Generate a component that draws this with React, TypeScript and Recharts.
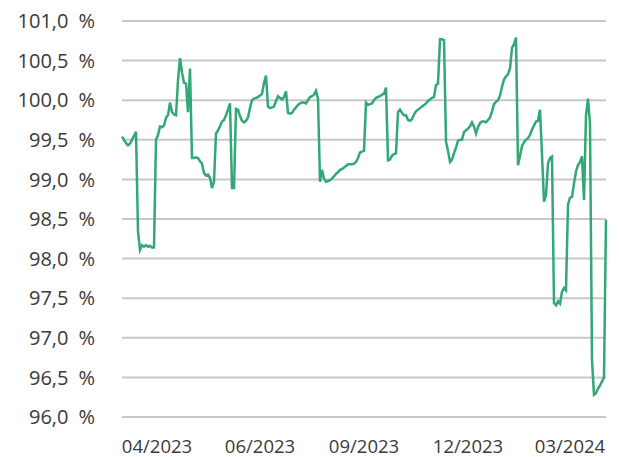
import React from 'react';
import { LineChart, Line, XAxis, YAxis, CartesianGrid } from 'recharts';

// daily values, % of par
const values = [
  99.54, 99.5, 99.46, 99.43, 99.45, 99.5, 99.55, 99.6, 98.34, 98.11,
  98.17, 98.15, 98.17, 98.15, 98.16, 98.14, 98.14, 99.5, 99.56, 99.67,
  99.66, 99.68, 99.78, 99.81, 99.97, 99.85, 99.82, 99.81, 100.25, 100.53,
  100.35, 100.22, 100.21, 99.85, 100.4, 99.27, 99.27, 99.28, 99.27, 99.23,
  99.2, 99.08, 99.05, 99.06, 99.02, 98.89, 98.97, 99.58, 99.62, 99.67,
  99.73, 99.75, 99.81, 99.88, 99.96, 98.89, 98.89, 99.89, 99.88, 99.8,
  99.74, 99.72, 99.74, 99.78, 99.9, 100.0, 100.02, 100.03, 100.04, 100.06,
  100.08, 100.22, 100.31, 99.92, 99.9, 99.91, 99.92, 99.99, 100.05, 100.03,
  100.01, 100.04, 100.11, 99.84, 99.83, 99.84, 99.88, 99.91, 99.94, 99.96,
  99.97, 99.97, 99.96, 100.0, 100.04, 100.05, 100.07, 100.12, 100.02, 98.97,
  99.12, 99.01, 98.97, 98.98, 98.99, 99.01, 99.04, 99.07, 99.09, 99.12,
  99.13, 99.15, 99.17, 99.19, 99.19, 99.19, 99.2, 99.22, 99.27, 99.34,
  99.35, 99.36, 99.97, 99.94, 99.95, 99.96, 100.0, 100.03, 100.04, 100.05,
  100.07, 100.08, 100.16, 99.24, 99.25, 99.3, 99.32, 99.33, 99.85, 99.88,
  99.84, 99.81, 99.81, 99.75, 99.74, 99.76, 99.82, 99.86, 99.88, 99.9,
  99.92, 99.94, 99.96, 99.99, 100.01, 100.03, 100.04, 100.19, 100.21, 100.77,
  100.77, 100.76, 99.48, 99.36, 99.22, 99.25, 99.33, 99.4, 99.49, 99.5,
  99.5, 99.6, 99.62, 99.64, 99.67, 99.72, 99.67, 99.58, 99.66, 99.71,
  99.73, 99.73, 99.72, 99.75, 99.78, 99.86, 99.95, 99.98, 100.0, 100.06,
  100.17, 100.26, 100.3, 100.33, 100.4, 100.66, 100.71, 100.79, 99.18, 99.3,
  99.42, 99.47, 99.5, 99.52, 99.56, 99.63, 99.68, 99.73, 99.74, 99.88,
  99.31, 98.72, 98.8, 99.2, 99.27, 99.29, 97.44, 97.41, 97.46, 97.43,
  97.58, 97.63, 97.6, 98.68, 98.77, 98.78, 98.95, 99.1, 99.18, 99.22,
  99.29, 98.74, 99.81, 100.02, 99.7, 96.72, 96.28, 96.3, 96.36, 96.4,
  96.45, 96.5, 98.49,
];

const yTicks = [96, 96.5, 97, 97.5, 98, 98.5, 99, 99.5, 100, 100.5, 101];
const monthLabels = ['04/2023', '06/2023', '09/2023', '12/2023', '03/2024'];
const monthIndex = [17.5, 69, 121, 173, 224];

const data = values.map((v, i) => ({ i, v }));

// wider gap before the percent sign, as in the source
const fmtPct = (v: number) => v.toFixed(1).replace('.', ',') + '\u2002%';
const fmtMonth = (i: number) => monthLabels[monthIndex.indexOf(i)] ?? '';

export default function App() {
  return (
    <div style={{ position: 'absolute', left: 0, top: 0, fontFamily: 'Open Sans' }}>
      <LineChart
        width={619}
        height={457}
        data={data}
        margin={{ top: 21, right: 13, bottom: 0, left: 0 }}
      >
        <CartesianGrid vertical={false} stroke="#c8c8c8" strokeWidth={2} />
        <XAxis
          dataKey="i"
          type="number"
          domain={[0, values.length - 1]}
          ticks={monthIndex}
          tickFormatter={fmtMonth}
          interval={0}
          axisLine={false}
          tickLine={false}
          tickSize={0}
          tickMargin={23}
          height={40}
          tick={{ fill: '#3a3a3a', fontSize: 18.5, fontFamily: 'Open Sans' }}
        />
        <YAxis
          type="number"
          domain={[96, 101]}
          ticks={yTicks}
          tickFormatter={fmtPct}
          interval={0}
          axisLine={false}
          tickLine={false}
          tickSize={0}
          tickMargin={27}
          width={122}
          tick={{ fill: '#3a3a3a', fontSize: 20, fontFamily: 'Open Sans' }}
        />
        <Line
          type="linear"
          dataKey="v"
          stroke="#31a875"
          strokeWidth={2.5}
          dot={false}
          isAnimationActive={false}
        />
      </LineChart>
    </div>
  );
}
